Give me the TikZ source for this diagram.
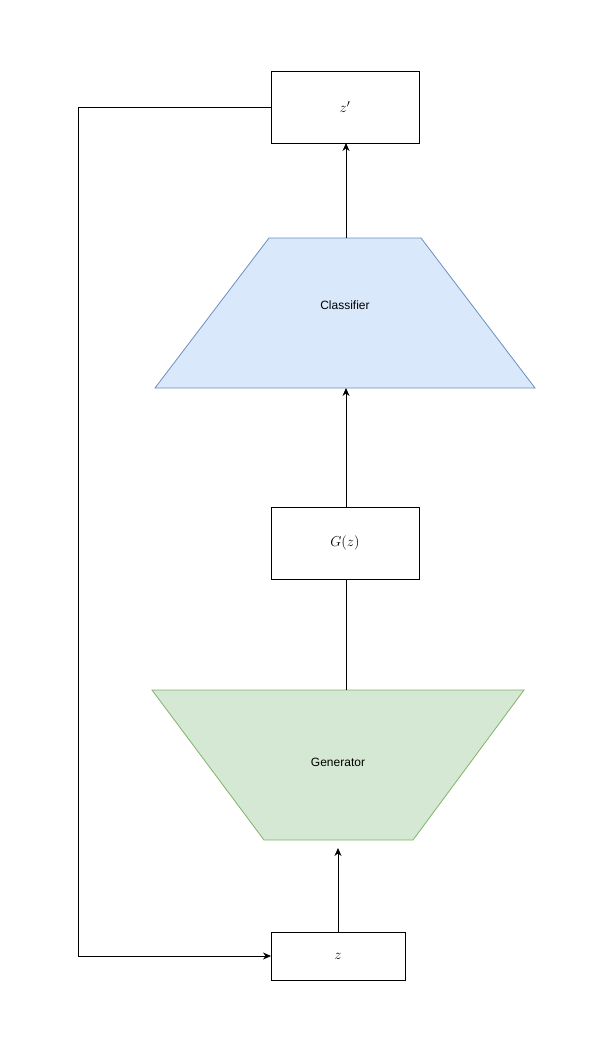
\documentclass[tikz,border=0pt]{standalone}
\usepackage{fontspec}
\newfontfamily\lsans{Liberation Sans}
\usetikzlibrary{arrows.meta}
\definecolor{blueF}{HTML}{DAE8FC}
\definecolor{blueD}{HTML}{6C8EBF}
\definecolor{greenF}{HTML}{D5E8D4}
\definecolor{greenD}{HTML}{82B366}
\begin{document}
\begin{tikzpicture}[x=1pt,y=-1pt,
  box/.style={draw=black,fill=white,line width=0.8pt},
  conn/.style={draw=black,line width=0.8pt},
  arr/.style={conn,-{Stealth[length=8pt,width=7pt]}},
  mathlbl/.style={font=\fontsize{15}{17}\selectfont},
  sanslbl/.style={font=\lsans\fontsize{12}{14}\selectfont}]
\useasboundingbox (0,0) rectangle (606,1051);
\fill[white] (0,0) rectangle (606,1051);
% boxes
\draw[box] (271,71) rectangle (419,143);
\node[mathlbl] (zp) at (345,107) {$z'$};
\coordinate (zpL) at (271,107);
\coordinate (zpB) at (346,143);
\draw[box] (271,507) rectangle (419,579);
\node[mathlbl] (gz) at (345,543) {$G(z)$};
\coordinate (gzT) at (346,507);
\coordinate (gzB) at (346,579);
\draw[box] (271,932) rectangle (405,980);
\node[mathlbl] (z) at (338,956) {$z$};
\coordinate (zT) at (338,932);
\coordinate (zL) at (271,956);
% trapezoids
\draw[fill=blueF,draw=blueD,line width=0.8pt] (269,238) -- (421,238) -- (535,388) -- (155,388) -- cycle;
\node[sanslbl] (cls) at (345,305) {Classifier};
\coordinate (clsT) at (346,238);
\coordinate (clsB) at (346,388);
\draw[fill=greenF,draw=greenD,line width=0.8pt] (152,690) -- (524,690) -- (413,840) -- (264,840) -- cycle;
\node[sanslbl] (gen) at (338,762) {Generator};
\coordinate (genT) at (346,690);
\coordinate (genB) at (338,848);
% connectors
\draw[conn] (genT) -- (gzB);
\draw[arr] (gzT) -- (clsB);
\draw[arr] (clsT) -- (zpB);
\draw[arr] (zT) -- (genB);
\coordinate (c1) at (78,107);
\coordinate (c2) at (78,956);
\draw[arr] (zpL) -- (c1) -- (c2) -- (zL);
\end{tikzpicture}
\end{document}
